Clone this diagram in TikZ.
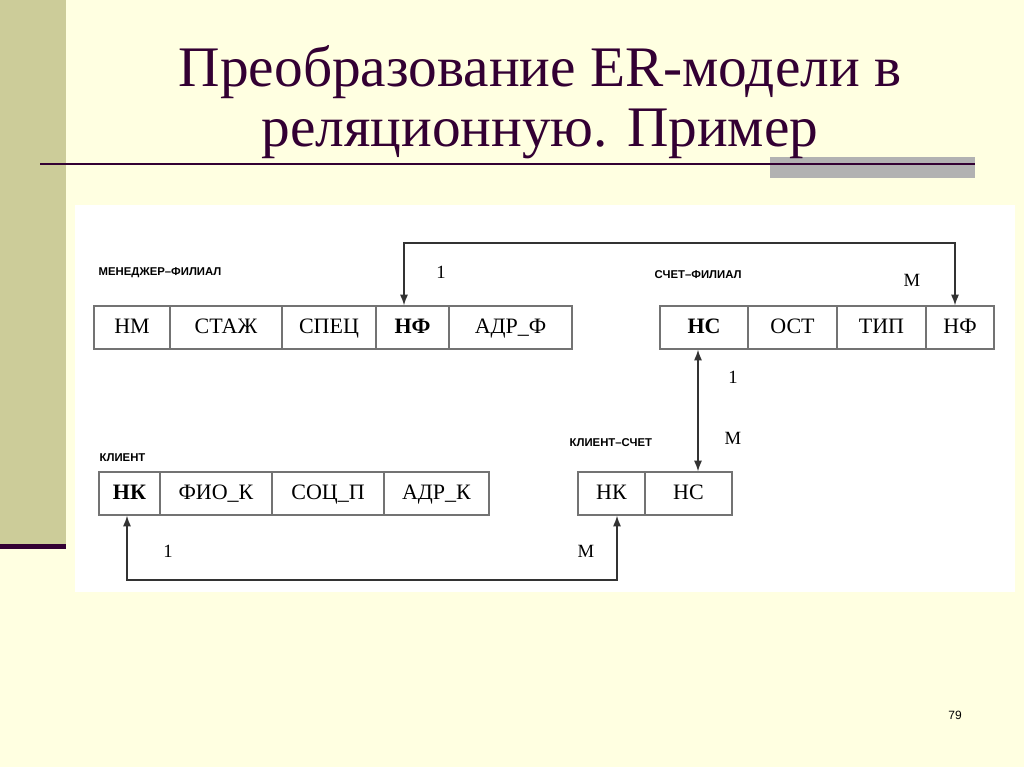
\documentclass[tikz,border=0pt]{standalone}
\usepackage{fontspec}
\setmainfont{Liberation Serif}
\newfontfamily\lsans{Liberation Sans}
\usetikzlibrary{arrows.meta}
\definecolor{plum}{RGB}{51,0,51}
\definecolor{olive}{RGB}{204,204,153}
\definecolor{bgy}{RGB}{255,255,225}
\begin{document}
\begin{tikzpicture}[x=0.75pt,y=-0.75pt,
  cell/.style={draw=black!55,line width=0.9pt,minimum height=32.25pt,inner sep=0pt,text height=11.5pt,text depth=2pt,font=\fontsize{16.5}{18}\selectfont},
  tlab/.style={anchor=west,font=\lsans\bfseries\fontsize{8.5}{10}\selectfont},
  card/.style={font=\fontsize{14}{16}\selectfont},
  conn2/.style={line width=1.1pt,black!80,{Latex[length=8pt,width=6pt]}-{Latex[length=8pt,width=6pt]}}]
\fill[bgy] (0,0) rectangle (1024,767);
\useasboundingbox (0,0) rectangle (1024,767);
\fill[olive] (0,0) rectangle (66,545);
\fill[plum] (0,544) rectangle (66,549);
\fill[black!30] (770,157) rectangle (975,178);
\draw[line width=2.2pt,plum] (40,164) -- (975,164);
\node[font=\fontsize{43}{45}\selectfont,text=plum,xscale=1] (t1) at (540,72) {Преобразование ER-модели в};
\node[font=\fontsize{43}{45}\selectfont,text=plum] (t2) at (540,134) {реляционную. Пример};
\fill[white] (75,205) rectangle (1015,592);
\foreach \a/\b/\t/\n in {94/170/НМ/a1,170/282/СТАЖ/a2,282/376/СПЕЦ/a3,376/449/\textbf{НФ}/a4,449/572/АДР\_Ф/a5,
  660/748/\textbf{НС}/b1,748/837/ОСТ/b2,837/926/ТИП/b3,926/994/НФ/b4}
  \node[cell,minimum width={(\b-\a)*0.75pt}] (\n) at ({(\a+\b)/2},327.5) {\t};
\foreach \a/\b/\t/\n in {99/160/\textbf{НК}/c1,160/272/ФИО\_К/c2,272/384/СОЦ\_П/c3,384/489/АДР\_К/c4,
  578/645/НК/d1,645/732/НС/d2}
  \node[cell,minimum width={(\b-\a)*0.75pt}] (\n) at ({(\a+\b)/2},493.5) {\t};
\node[tlab] (l1) at (94,273) {МЕНЕДЖЕР–ФИЛИАЛ};
\node[tlab] (l2) at (650,275) {СЧЕТ–ФИЛИАЛ};
\node[tlab] (l3) at (95,458) {КЛИЕНТ};
\node[tlab] (l4) at (565,443) {КЛИЕНТ–СЧЕТ};
\coordinate (p1) at (404,243); \coordinate (p2) at (955,243);
\draw[conn2] (a4.north west -| p1) -- (p1) -- (p2) -- (b4.north -| p2);
\draw[conn2] (b1.south -| 698,0) -- (d2.north -| 698,0);
\coordinate (q1) at (127,580); \coordinate (q2) at (617,580);
\draw[conn2] (c1.south -| q1) -- (q1) -- (q2) -- (d1.south -| q2);
\node[card] (n1) at (441,272) {1};
\node[card] (n2) at (912,280) {М};
\node[card] (n3) at (733,377) {1};
\node[card] (n4) at (733,438) {М};
\node[card] (n5) at (168,551) {1};
\node[card] (n6) at (586,551) {М};
\node[font=\lsans\fontsize{9}{10}\selectfont] (pg) at (955,715) {79};
\end{tikzpicture}
\end{document}
